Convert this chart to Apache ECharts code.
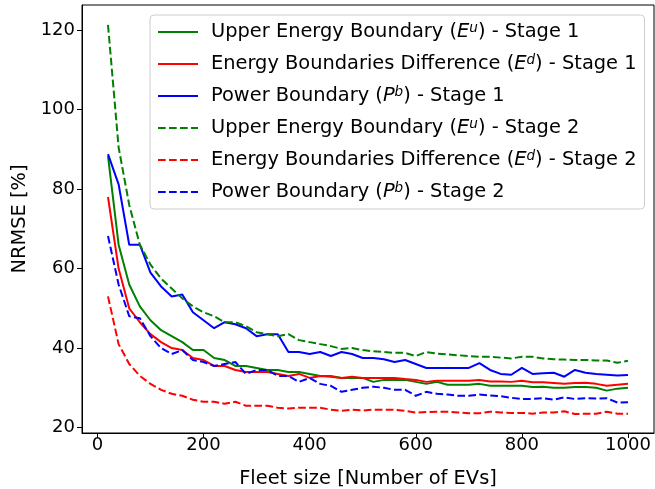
<!DOCTYPE html>
<html>
<head>
<meta charset="utf-8">
<script src="https://cdn.jsdelivr.net/npm/echarts@6/dist/echarts.min.js"></script>
<style>
    html, body { margin: 0; padding: 0; background: #fff; }
    #chart { width: 655px; height: 489px; }
</style>
</head>
<body>
<div id="chart"></div>
<script>
    // fleet sizes 20..1000 step 20
    var fleetSize = [20,40,60,80,100,120,140,160,180,200,220,240,260,280,300,320,340,360,380,400,
        420,440,460,480,500,520,540,560,580,600,620,640,660,680,700,720,740,760,780,800,
        820,840,860,880,900,920,940,960,980,1000];

    var upperS1 = [88.3,66,56,50.5,47,44.5,43,41.5,39.5,39.5,37.5,37,35.5,35.5,35,34.5,34.5,34,34,33.5,
        33,33,32.5,32.5,32.5,31.5,32,32,32,31.5,31,31.5,30.8,30.8,30.8,31,30.5,30.5,30.5,30.5,
        30.2,30.3,30,30,30.2,30.2,30,29.3,29.8,30];
    var diffS1 = [78,60,50,46.5,43.5,41.5,40,39.5,37.5,37,35.5,35.5,34.5,34,34,34,33.5,33,33.5,32.5,
        33,32.8,32.5,32.8,32.5,32.5,32.5,32.5,32.2,32,31.5,31.8,31.8,31.8,31.8,32,31.6,31.6,31.5,31.8,
        31.4,31.4,31.2,31,31.2,31.3,31,30.5,30.8,31];
    var powerS1 = [88.8,81.2,66,66,59,55.5,53,53.5,49,47,45,46.5,46,45,43,43.5,43.5,39,39,38.5,
        39,38,39,38.5,37.5,37.5,37.2,36.5,37,36,35,35,35,35,35,36.2,34.5,33.5,33.3,35,
        33.5,33.7,33.8,32.8,34.5,33.8,33.5,33.3,33.1,33.2];
    var upperS2 = [121.3,90.5,76,66,61,57.5,55,52.5,50.5,49,48,46.5,46.5,45.5,44,43.5,43,43.5,42,41.5,
        41,40.5,39.8,40,39.5,39.2,39,38.8,38.8,38,39,38.6,38.4,38.2,38,37.8,37.8,37.6,37.4,37.8,
        37.8,37.4,37.2,37.1,37,37,36.9,36.9,36.3,36.8];
    var diffS2 = [53,41,36,33,31,29.5,28.5,28,27,26.5,26.5,26,26.5,25.5,25.5,25.5,25,24.8,25,25,
        25,24.5,24.2,24.5,24.3,24.5,24.5,24.5,24.2,23.8,23.9,24,24,23.8,23.6,23.6,24,23.8,23.7,23.7,
        23.5,23.8,23.8,24.1,23.4,23.5,23.5,24,23.5,23.5];
    var powerS2 = [68.2,56,48,47.5,43,40,38.5,39.5,37,36.5,35.5,36,36.5,33.5,34.5,34.5,33,33,31.5,32.5,
        31,30.5,29,29.5,30,30.3,30,29.5,29.5,28,29,28.5,28.3,28,28,28.3,28.1,27.9,27.5,27.2,
        27.2,27.4,27,27.6,27.2,27.4,27.3,27.4,26.3,26.4];

    var xTicks = [0,200,400,600,800,1000];
    var yTicks = [20,40,60,80,100,120];

    var font = 'DejaVu Sans';
    var dash = [7.7, 3.3];

    // legend text with italic symbol + superscript
    var legendText = {
        'upperS1': 'Upper Energy Boundary ({i|E}{sup|u}) - Stage 1',
        'diffS1': 'Energy Boundaries Difference ({i|E}{sup|d}) - Stage 1',
        'powerS1': 'Power Boundary ({i|P}{sup|b}) - Stage 1',
        'upperS2': 'Upper Energy Boundary ({i|E}{sup|u}) - Stage 2',
        'diffS2': 'Energy Boundaries Difference ({i|E}{sup|d}) - Stage 2',
        'powerS2': 'Power Boundary ({i|P}{sup|b}) - Stage 2'
    };

    function pairs(ys) {
        return fleetSize.map(function (x, i) { return [x, ys[i]]; });
    }

    function line(name, ys, color, dashed) {
        return {
            name: name,
            type: 'line',
            data: pairs(ys),
            symbol: 'none',
            animation: false,
            color: color,
            lineStyle: { color: color, width: 2, type: dashed ? dash : 'solid' }
        };
    }

    var chart = echarts.init(document.getElementById('chart'));
    chart.setOption({
        animation: false,
        grid: {
            left: 82, right: 1, top: 5, bottom: 56,
            containLabel: false, outerBoundsMode: 'none',
            show: true, borderColor: '#000', borderWidth: 1
        },
        legend: {
            orient: 'vertical',
            left: 150,
            top: 15,
            padding: [6, 8, 6, 7],
            itemGap: 10,
            itemWidth: 40,
            itemHeight: 14,
            itemStyle: { opacity: 0 },
            backgroundColor: 'rgba(255,255,255,0.8)',
            borderColor: '#ccc',
            borderWidth: 1,
            borderRadius: 4,
            formatter: function (name) { return legendText[name]; },
            textStyle: {
                fontFamily: font,
                fontSize: 19.4,
                color: '#000',
                lineHeight: 22,
                padding: [0, 0, 0, 8],
                rich: {
                    i: { fontFamily: font, fontSize: 19.4, fontStyle: 'italic', color: '#000', lineHeight: 22 },
                    sup: { fontFamily: font, fontSize: 13.6, fontStyle: 'italic', color: '#000', lineHeight: 14, padding: [0, 0, 8, 0] }
                }
            }
        },
        xAxis: {
            type: 'value',
            min: -29,
            max: 1049,
            name: 'Fleet size [Number of EVs]',
            nameLocation: 'middle',
            nameGap: 36,
            nameTextStyle: { fontFamily: font, fontSize: 19.4, color: '#000' },
            splitLine: { show: false },
            axisLine: { show: true, onZero: false, lineStyle: { color: '#000', width: 1 } },
            axisTick: { show: true, inside: false, length: 5, customValues: xTicks, lineStyle: { color: '#000' } },
            axisLabel: {
                fontFamily: font, fontSize: 18, color: '#000', margin: 3, customValues: xTicks,
                formatter: function (v) { return String(v); }
            }
        },
        yAxis: {
            type: 'value',
            min: 18.64,
            max: 126.3,
            name: 'NRMSE [%]',
            nameLocation: 'middle',
            nameGap: 52,
            nameTextStyle: { fontFamily: font, fontSize: 19.4, color: '#000' },
            splitLine: { show: false },
            axisLine: { show: true, onZero: false, lineStyle: { color: '#000', width: 1 } },
            axisTick: { show: true, inside: false, length: 5, customValues: yTicks, lineStyle: { color: '#000' } },
            axisLabel: { fontFamily: font, fontSize: 18, color: '#000', margin: 7, customValues: yTicks }
        },
        series: [
            line('upperS1', upperS1, '#008000', false),
            line('diffS1', diffS1, '#ff0000', false),
            line('powerS1', powerS1, '#0000ff', false),
            line('upperS2', upperS2, '#008000', true),
            line('diffS2', diffS2, '#ff0000', true),
            line('powerS2', powerS2, '#0000ff', true)
        ]
    });
</script>
</body>
</html>
